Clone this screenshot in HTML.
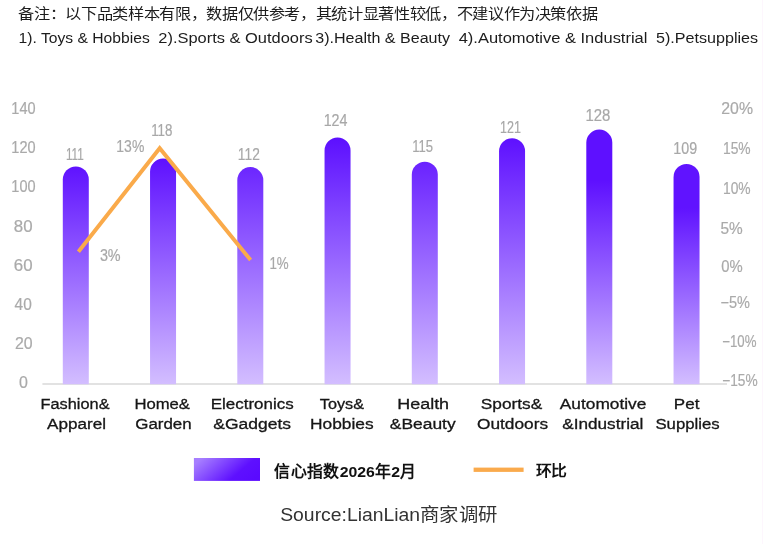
<!DOCTYPE html>
<html lang="zh-CN"><head><meta charset="utf-8">
<style>
html,body{margin:0;padding:0;background:#fff;}
body{width:764px;height:544px;overflow:hidden;position:relative;font-family:"Liberation Sans",sans-serif;}
svg{position:absolute;left:0;top:0;display:block;will-change:transform;}
svg text{font-family:"Liberation Sans",sans-serif;}
</style></head>
<body>
<svg width="764" height="544" viewBox="0 0 764 544">
<defs>
<linearGradient id="b0" x1="0" y1="0" x2="0" y2="1"><stop offset="0" stop-color="#5f12ff"/><stop offset="1" stop-color="#d3beff"/></linearGradient>
<linearGradient id="b1" x1="0" y1="0" x2="0" y2="1"><stop offset="0" stop-color="#5e10ff"/><stop offset="1" stop-color="#d3beff"/></linearGradient>
<linearGradient id="b2" x1="0" y1="0" x2="0" y2="1"><stop offset="0" stop-color="#6c26ff"/><stop offset="1" stop-color="#d3beff"/></linearGradient>
<linearGradient id="b3" x1="0" y1="0" x2="0" y2="1"><stop offset="0" stop-color="#5c0fff"/><stop offset="1" stop-color="#d3beff"/></linearGradient>
<linearGradient id="b4" x1="0" y1="0" x2="0" y2="1"><stop offset="0" stop-color="#6a22ff"/><stop offset="1" stop-color="#d3beff"/></linearGradient>
<linearGradient id="b5" x1="0" y1="0" x2="0" y2="1"><stop offset="0" stop-color="#5e10ff"/><stop offset="1" stop-color="#d3beff"/></linearGradient>
<linearGradient id="b6" x1="0" y1="0" x2="0" y2="1"><stop offset="0" stop-color="#5e10ff"/><stop offset="0.2" stop-color="#5e10ff"/><stop offset="1" stop-color="#d3beff"/></linearGradient>
<linearGradient id="b7" x1="0" y1="0" x2="0" y2="1"><stop offset="0" stop-color="#6013ff"/><stop offset="0.2" stop-color="#6013ff"/><stop offset="1" stop-color="#d3beff"/></linearGradient>
<linearGradient id="lg" x1="0" y1="0.3" x2="1" y2="0.7">
<stop offset="0" stop-color="#a67eff"/>
<stop offset="0.7" stop-color="#5e10ff"/>
<stop offset="1" stop-color="#5a0aff"/>
</linearGradient>
</defs>
<rect width="764" height="544" fill="#fff"/>
<g>
<line x1="762.5" y1="0" x2="762.5" y2="544" stroke="#fdf6fd" stroke-width="1"/>
<line x1="42.4" y1="383.9" x2="727" y2="383.9" stroke="#d9d9d9" stroke-width="1.5"/>
<g>
<path fill="url(#b0)" d="M62.80,384.3 V179.50 A13,13 0 0 1 88.80,179.50 V384.3 Z"/>
<path fill="url(#b1)" d="M150.05,384.3 V171.60 A13,13 0 0 1 176.05,171.60 V384.3 Z"/>
<path fill="url(#b2)" d="M237.30,384.3 V180.10 A13,13 0 0 1 263.30,180.10 V384.3 Z"/>
<path fill="url(#b3)" d="M324.55,384.3 V150.40 A13,13 0 0 1 350.55,150.40 V384.3 Z"/>
<path fill="url(#b4)" d="M411.80,384.3 V174.70 A13,13 0 0 1 437.80,174.70 V384.3 Z"/>
<path fill="url(#b5)" d="M499.05,384.3 V151.20 A13,13 0 0 1 525.05,151.20 V384.3 Z"/>
<path fill="url(#b6)" d="M586.30,384.3 V142.60 A13,13 0 0 1 612.30,142.60 V384.3 Z"/>
<path fill="url(#b7)" d="M673.55,384.3 V177.00 A13,13 0 0 1 699.55,177.00 V384.3 Z"/>
</g>
<polyline points="78.4,251.7 159.7,148.2 250.6,260.1" fill="none" stroke="#faaa4a" stroke-width="3.9" stroke-linejoin="miter"/>
<rect x="193.9" y="458" width="66.1" height="22.9" fill="url(#lg)"/>
<rect x="473.6" y="467.6" width="50" height="4.3" fill="#faaa4c"/>
</g>
<text id="t0" x="11.32" y="113.90" font-size="16.34" font-weight="normal" fill="#aaaaaa" stroke="#aaaaaa" stroke-width="0.2" textLength="24.24" lengthAdjust="spacingAndGlyphs">140</text>
<text id="t1" x="11.32" y="153.10" font-size="16.34" font-weight="normal" fill="#aaaaaa" stroke="#aaaaaa" stroke-width="0.2" textLength="24.24" lengthAdjust="spacingAndGlyphs">120</text>
<text id="t2" x="11.32" y="192.30" font-size="16.34" font-weight="normal" fill="#aaaaaa" stroke="#aaaaaa" stroke-width="0.2" textLength="24.24" lengthAdjust="spacingAndGlyphs">100</text>
<text id="t3" x="13.76" y="231.50" font-size="16.34" font-weight="normal" fill="#aaaaaa" stroke="#aaaaaa" stroke-width="0.2" textLength="18.80" lengthAdjust="spacingAndGlyphs">80</text>
<text id="t4" x="13.76" y="270.70" font-size="16.34" font-weight="normal" fill="#aaaaaa" stroke="#aaaaaa" stroke-width="0.2" textLength="18.80" lengthAdjust="spacingAndGlyphs">60</text>
<text id="t5" x="14.56" y="309.90" font-size="16.34" font-weight="normal" fill="#aaaaaa" stroke="#aaaaaa" stroke-width="0.2" textLength="17.22" lengthAdjust="spacingAndGlyphs">40</text>
<text id="t6" x="14.88" y="349.10" font-size="16.34" font-weight="normal" fill="#aaaaaa" stroke="#aaaaaa" stroke-width="0.2" textLength="17.68" lengthAdjust="spacingAndGlyphs">20</text>
<text id="t7" x="18.88" y="388.30" font-size="16.34" font-weight="normal" fill="#aaaaaa" stroke="#aaaaaa" stroke-width="0.2" textLength="8.90" lengthAdjust="spacingAndGlyphs">0</text>
<text id="t8" x="721.32" y="113.90" font-size="16.34" font-weight="normal" fill="#aaaaaa" stroke="#aaaaaa" stroke-width="0.2" textLength="31.70" lengthAdjust="spacingAndGlyphs">20%</text>
<text id="t9" x="722.98" y="154.10" font-size="16.34" font-weight="normal" fill="#aaaaaa" stroke="#aaaaaa" stroke-width="0.2" textLength="27.68" lengthAdjust="spacingAndGlyphs">15%</text>
<text id="t10" x="722.98" y="193.60" font-size="16.34" font-weight="normal" fill="#aaaaaa" stroke="#aaaaaa" stroke-width="0.2" textLength="27.68" lengthAdjust="spacingAndGlyphs">10%</text>
<text id="t11" x="720.54" y="233.90" font-size="16.34" font-weight="normal" fill="#aaaaaa" stroke="#aaaaaa" stroke-width="0.2" textLength="22.24" lengthAdjust="spacingAndGlyphs">5%</text>
<text id="t12" x="721.34" y="271.60" font-size="16.34" font-weight="normal" fill="#aaaaaa" stroke="#aaaaaa" stroke-width="0.2" textLength="21.44" lengthAdjust="spacingAndGlyphs">0%</text>
<text id="t13" x="720.54" y="307.80" font-size="16.34" font-weight="normal" fill="#aaaaaa" stroke="#aaaaaa" stroke-width="0.2" textLength="29.46" lengthAdjust="spacingAndGlyphs">−5%</text>
<text id="t14" x="722.22" y="347.40" font-size="16.34" font-weight="normal" fill="#aaaaaa" stroke="#aaaaaa" stroke-width="0.2" textLength="34.22" lengthAdjust="spacingAndGlyphs">−10%</text>
<text id="t15" x="722.22" y="385.60" font-size="16.34" font-weight="normal" fill="#aaaaaa" stroke="#aaaaaa" stroke-width="0.2" textLength="35.46" lengthAdjust="spacingAndGlyphs">−15%</text>
<text id="t16" x="65.88" y="160.20" font-size="16.20" font-weight="normal" fill="#a8a8a8" stroke="#a8a8a8" stroke-width="0.2" textLength="17.80" lengthAdjust="spacingAndGlyphs">111</text>
<text id="t17" x="151.20" y="135.90" font-size="16.06" font-weight="normal" fill="#a8a8a8" stroke="#a8a8a8" stroke-width="0.2" textLength="21.24" lengthAdjust="spacingAndGlyphs">118</text>
<text id="t18" x="237.86" y="160.30" font-size="16.34" font-weight="normal" fill="#a8a8a8" stroke="#a8a8a8" stroke-width="0.2" textLength="21.92" lengthAdjust="spacingAndGlyphs">112</text>
<text id="t19" x="323.64" y="126.00" font-size="16.48" font-weight="normal" fill="#a8a8a8" stroke="#a8a8a8" stroke-width="0.2" textLength="23.80" lengthAdjust="spacingAndGlyphs">124</text>
<text id="t20" x="412.32" y="151.90" font-size="16.76" font-weight="normal" fill="#a8a8a8" stroke="#a8a8a8" stroke-width="0.2" textLength="20.80" lengthAdjust="spacingAndGlyphs">115</text>
<text id="t21" x="499.98" y="132.50" font-size="16.06" font-weight="normal" fill="#a8a8a8" stroke="#a8a8a8" stroke-width="0.2" textLength="20.92" lengthAdjust="spacingAndGlyphs">121</text>
<text id="t22" x="585.42" y="120.80" font-size="16.20" font-weight="normal" fill="#a8a8a8" stroke="#a8a8a8" stroke-width="0.2" textLength="24.92" lengthAdjust="spacingAndGlyphs">128</text>
<text id="t23" x="673.32" y="153.90" font-size="15.92" font-weight="normal" fill="#a8a8a8" stroke="#a8a8a8" stroke-width="0.2" textLength="23.80" lengthAdjust="spacingAndGlyphs">109</text>
<text id="t24" x="116.32" y="152.20" font-size="16.48" font-weight="normal" fill="#a8a8a8" stroke="#a8a8a8" stroke-width="0.2" textLength="28.02" lengthAdjust="spacingAndGlyphs">13%</text>
<text id="t25" x="99.88" y="261.00" font-size="15.64" font-weight="normal" fill="#a8a8a8" stroke="#a8a8a8" stroke-width="0.2" textLength="20.78" lengthAdjust="spacingAndGlyphs">3%</text>
<text id="t26" x="269.42" y="268.90" font-size="15.92" font-weight="normal" fill="#a8a8a8" stroke="#a8a8a8" stroke-width="0.2" textLength="19.26" lengthAdjust="spacingAndGlyphs">1%</text>
<text id="t27" x="40.52" y="408.70" font-size="15.23" font-weight="normal" fill="#161616" stroke="#161616" stroke-width="0.3" textLength="69.02" lengthAdjust="spacingAndGlyphs">Fashion&amp;</text>
<text id="t28" x="134.42" y="408.70" font-size="15.23" font-weight="normal" fill="#161616" stroke="#161616" stroke-width="0.3" textLength="55.56" lengthAdjust="spacingAndGlyphs">Home&amp;</text>
<text id="t29" x="210.76" y="408.70" font-size="15.23" font-weight="normal" fill="#161616" stroke="#161616" stroke-width="0.3" textLength="82.92" lengthAdjust="spacingAndGlyphs">Electronics</text>
<text id="t30" x="319.78" y="408.70" font-size="15.23" font-weight="normal" fill="#161616" stroke="#161616" stroke-width="0.3" textLength="44.20" lengthAdjust="spacingAndGlyphs">Toys&amp;</text>
<text id="t31" x="397.20" y="408.70" font-size="15.23" font-weight="normal" fill="#161616" stroke="#161616" stroke-width="0.3" textLength="51.94" lengthAdjust="spacingAndGlyphs">Health</text>
<text id="t32" x="480.76" y="408.70" font-size="15.23" font-weight="normal" fill="#161616" stroke="#161616" stroke-width="0.3" textLength="61.46" lengthAdjust="spacingAndGlyphs">Sports&amp;</text>
<text id="t33" x="559.80" y="408.70" font-size="15.23" font-weight="normal" fill="#161616" stroke="#161616" stroke-width="0.3" textLength="86.54" lengthAdjust="spacingAndGlyphs">Automotive</text>
<text id="t34" x="673.86" y="408.70" font-size="15.23" font-weight="normal" fill="#161616" stroke="#161616" stroke-width="0.3" textLength="25.58" lengthAdjust="spacingAndGlyphs">Pet</text>
<text id="t35" x="47.12" y="428.90" font-size="15.23" font-weight="normal" fill="#161616" stroke="#161616" stroke-width="0.3" textLength="58.90" lengthAdjust="spacingAndGlyphs">Apparel</text>
<text id="t36" x="135.22" y="428.90" font-size="15.23" font-weight="normal" fill="#161616" stroke="#161616" stroke-width="0.3" textLength="56.46" lengthAdjust="spacingAndGlyphs">Garden</text>
<text id="t37" x="213.32" y="428.90" font-size="15.23" font-weight="normal" fill="#161616" stroke="#161616" stroke-width="0.3" textLength="77.80" lengthAdjust="spacingAndGlyphs">&amp;Gadgets</text>
<text id="t38" x="310.08" y="428.90" font-size="15.23" font-weight="normal" fill="#161616" stroke="#161616" stroke-width="0.3" textLength="63.60" lengthAdjust="spacingAndGlyphs">Hobbies</text>
<text id="t39" x="389.88" y="428.90" font-size="15.23" font-weight="normal" fill="#161616" stroke="#161616" stroke-width="0.3" textLength="65.78" lengthAdjust="spacingAndGlyphs">&amp;Beauty</text>
<text id="t40" x="477.00" y="428.90" font-size="15.23" font-weight="normal" fill="#161616" stroke="#161616" stroke-width="0.3" textLength="71.12" lengthAdjust="spacingAndGlyphs">Outdoors</text>
<text id="t41" x="562.22" y="428.90" font-size="15.23" font-weight="normal" fill="#161616" stroke="#161616" stroke-width="0.3" textLength="81.12" lengthAdjust="spacingAndGlyphs">&amp;Industrial</text>
<text id="t42" x="655.44" y="428.90" font-size="15.23" font-weight="normal" fill="#161616" stroke="#161616" stroke-width="0.3" textLength="64.24" lengthAdjust="spacingAndGlyphs">Supplies</text>
<text id="t43" x="18.54" y="42.50" font-size="15.50" font-weight="normal" fill="#1c1c1c" textLength="131.24" lengthAdjust="spacingAndGlyphs">1). Toys &amp; Hobbies</text>
<text id="t44" x="158.32" y="42.50" font-size="15.50" font-weight="normal" fill="#1c1c1c" textLength="154.36" lengthAdjust="spacingAndGlyphs">2).Sports &amp; Outdoors</text>
<text id="t45" x="315.22" y="42.50" font-size="15.50" font-weight="normal" fill="#1c1c1c" textLength="134.78" lengthAdjust="spacingAndGlyphs">3).Health &amp; Beauty</text>
<text id="t46" x="458.68" y="42.50" font-size="15.50" font-weight="normal" fill="#1c1c1c" textLength="188.78" lengthAdjust="spacingAndGlyphs">4).Automotive &amp; Industrial</text>
<text id="t47" x="656.00" y="42.50" font-size="15.50" font-weight="normal" fill="#1c1c1c" textLength="102.12" lengthAdjust="spacingAndGlyphs">5).Petsupplies</text>
<text id="t48" x="18.44" y="18.60" font-size="14.50" font-weight="normal" fill="#1c1c1c" textLength="579.00" lengthAdjust="spacingAndGlyphs">备注：以下品类样本有限，数据仅供参考，其统计显著性较低，不建议作为决策依据</text>
<text id="t49" x="274.22" y="476.60" font-size="15.50" font-weight="bold" fill="#111" textLength="142.18" lengthAdjust="spacingAndGlyphs">信心指数2026年2月</text>
<text id="t50" x="535.56" y="475.60" font-size="14.50" font-weight="bold" fill="#111" textLength="30.56" lengthAdjust="spacingAndGlyphs">环比</text>
<text id="t51" x="280.20" y="520.80" font-size="18.11" font-weight="normal" fill="#333" textLength="216.92" lengthAdjust="spacingAndGlyphs">Source:LianLian商家调研</text>
</svg>
</body></html>
